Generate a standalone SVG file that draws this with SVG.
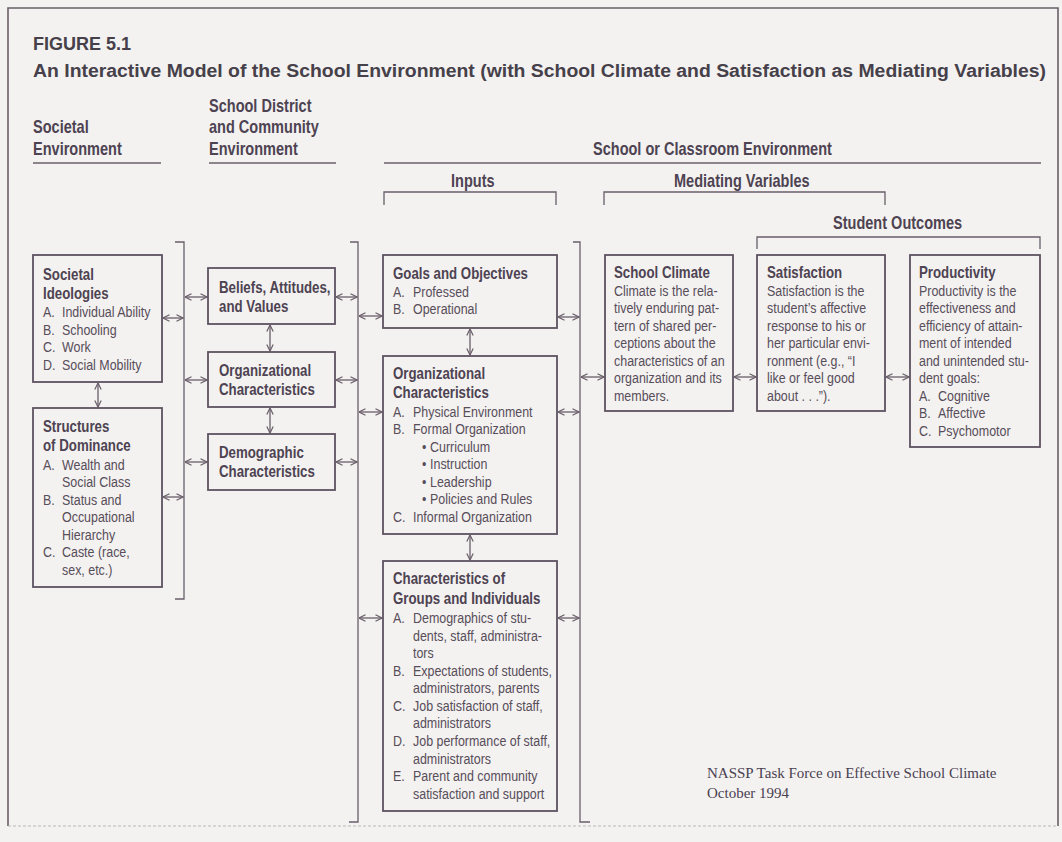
<svg xmlns="http://www.w3.org/2000/svg" width="1062" height="842" viewBox="0 0 1062 842">
  <defs>
    <style>
      .bg { fill: #f3f2f0; }
      .frame { fill: none; stroke: #6a5f68; stroke-width: 1.6; }
      .title { font-family: "Liberation Sans", Arial, sans-serif; font-weight: bold; font-size: 18px; fill: #46404a; }
      .hd { font-family: "Liberation Sans", Arial, sans-serif; font-weight: bold; font-size: 17.5px; fill: #4e4352; }
      .nt { font-family: "Liberation Sans", Arial, sans-serif; font-weight: bold; font-size: 16px; fill: #4e4352; }
      .tx { font-family: "Liberation Sans", Arial, sans-serif; font-size: 15px; fill: #584d5a; }
      .src { font-family: "Liberation Serif", "Times New Roman", serif; font-size: 15px; fill: #4a4050; }
      .box { fill: none; stroke: #5e5260; stroke-width: 1.8; }
      .rule { fill: none; stroke: #6a5e6a; stroke-width: 1.3; }
      .arr { fill: none; stroke: #6a5e6a; stroke-width: 1.3; marker-start: url(#ah); marker-end: url(#ah); }
    </style>
    <marker id="ah" viewBox="0 0 8 8" refX="7.5" refY="4" markerWidth="8" markerHeight="8" markerUnits="userSpaceOnUse" orient="auto-start-reverse">
      <path d="M1,0.8 L7.5,4 L1,7.2" fill="none" stroke="#6a5e6a" stroke-width="1.2"/>
    </marker>
  </defs>

  <rect class="bg" x="0" y="0" width="1062" height="842"/>
  <path class="frame" d="M8,826 V8 H1058 V826"/>
  <line x1="8" y1="826" x2="1058" y2="826" stroke="#bdb6bc" stroke-width="1.2" stroke-dasharray="3 2"/>

  <!-- figure title -->
  <text class="title" x="33" y="50">FIGURE 5.1</text>
  <text class="title" x="33" y="77" textLength="1013" lengthAdjust="spacingAndGlyphs">An Interactive Model of the School Environment (with School Climate and Satisfaction as Mediating Variables)</text>

  <!-- column headings (condensed by a horizontal scale) -->
  <g id="headings">
    <text class="hd" transform="matrix(0.83 0 0 1 33 0)" y="133">Societal</text>
    <text class="hd" transform="matrix(0.83 0 0 1 33 0)" y="155">Environment</text>
    <line class="rule" x1="33" y1="163" x2="161" y2="163"/>

    <text class="hd" transform="matrix(0.83 0 0 1 209 0)" y="112">School District</text>
    <text class="hd" transform="matrix(0.83 0 0 1 209 0)" y="133">and Community</text>
    <text class="hd" transform="matrix(0.83 0 0 1 209 0)" y="155">Environment</text>
    <line class="rule" x1="209" y1="163" x2="336" y2="163"/>

    <text class="hd" transform="matrix(0.83 0 0 1 593 0)" y="155">School or Classroom Environment</text>
    <line class="rule" x1="384" y1="163" x2="1041" y2="163"/>

    <text class="hd" transform="matrix(0.83 0 0 1 451 0)" y="187">Inputs</text>
    <path class="rule" d="M384,205 V192 H556 V205"/>

    <text class="hd" transform="matrix(0.83 0 0 1 674 0)" y="187">Mediating Variables</text>
    <path class="rule" d="M604,205 V192 H885 V205"/>

    <text class="hd" transform="matrix(0.83 0 0 1 833 0)" y="229">Student Outcomes</text>
    <path class="rule" d="M757,249 V237 H1040 V249"/>
  </g>

  <!-- connectors: brackets and two-way arrows -->
  <g id="connectors">
    <path class="rule" d="M175,242 H184 V599 H175"/>
    <path class="rule" d="M350,242 H358 V822 H349"/>
    <path class="rule" d="M573,242 H580 V822 H590"/>

    <line class="arr" x1="163" y1="318" x2="183" y2="318"/>
    <line class="arr" x1="163" y1="497" x2="183" y2="497"/>
    <line class="arr" x1="185" y1="297" x2="207" y2="297"/>
    <line class="arr" x1="185" y1="380" x2="207" y2="380"/>
    <line class="arr" x1="185" y1="462" x2="207" y2="462"/>
    <line class="arr" x1="336" y1="297" x2="357" y2="297"/>
    <line class="arr" x1="336" y1="380" x2="357" y2="380"/>
    <line class="arr" x1="336" y1="462" x2="357" y2="462"/>
    <line class="arr" x1="359" y1="316" x2="382" y2="316"/>
    <line class="arr" x1="359" y1="412" x2="382" y2="412"/>
    <line class="arr" x1="359" y1="618" x2="382" y2="618"/>
    <line class="arr" x1="558" y1="317" x2="579" y2="317"/>
    <line class="arr" x1="558" y1="412" x2="579" y2="412"/>
    <line class="arr" x1="558" y1="618" x2="579" y2="618"/>
    <line class="arr" x1="581" y1="377" x2="604" y2="377"/>
    <line class="arr" x1="734" y1="377" x2="756" y2="377"/>
    <line class="arr" x1="886" y1="377" x2="909" y2="377"/>

    <line class="arr" x1="98" y1="383" x2="98" y2="407"/>
    <line class="arr" x1="270" y1="325" x2="270" y2="351"/>
    <line class="arr" x1="270" y1="408" x2="270" y2="433"/>
    <line class="arr" x1="470" y1="329" x2="470" y2="355"/>
    <line class="arr" x1="470" y1="535" x2="470" y2="560"/>
  </g>

  <!-- societal environment -->
  <g id="societal-ideologies">
    <rect class="box" x="33" y="255" width="129" height="127"/>
    <g transform="matrix(0.83 0 0 1 43 0)">
      <text class="nt" x="0" y="280">Societal</text>
      <text class="nt" x="0" y="299">Ideologies</text>
      <text class="tx" y="317"><tspan x="0">A.</tspan><tspan x="22.9">Individual Ability</tspan></text>
      <text class="tx" y="335"><tspan x="0">B.</tspan><tspan x="22.9">Schooling</tspan></text>
      <text class="tx" y="352"><tspan x="0">C.</tspan><tspan x="22.9">Work</tspan></text>
      <text class="tx" y="370"><tspan x="0">D.</tspan><tspan x="22.9">Social Mobility</tspan></text>
    </g>
  </g>

  <g id="structures-of-dominance">
    <rect class="box" x="33" y="408" width="129" height="179"/>
    <g transform="matrix(0.83 0 0 1 43 0)">
      <text class="nt" x="0" y="432">Structures</text>
      <text class="nt" x="0" y="451">of Dominance</text>
      <text class="tx" y="470"><tspan x="0">A.</tspan><tspan x="22.9">Wealth and</tspan></text>
      <text class="tx" x="22.9" y="487">Social Class</text>
      <text class="tx" y="505"><tspan x="0">B.</tspan><tspan x="22.9">Status and</tspan></text>
      <text class="tx" x="22.9" y="522">Occupational</text>
      <text class="tx" x="22.9" y="540">Hierarchy</text>
      <text class="tx" y="557"><tspan x="0">C.</tspan><tspan x="22.9">Caste (race,</tspan></text>
      <text class="tx" x="22.9" y="575">sex, etc.)</text>
    </g>
  </g>

  <!-- school district and community environment -->
  <g id="beliefs">
    <rect class="box" x="208" y="268" width="127" height="56"/>
    <g transform="matrix(0.83 0 0 1 219 0)">
      <text class="nt" x="0" y="293">Beliefs, Attitudes,</text>
      <text class="nt" x="0" y="312">and Values</text>
    </g>
  </g>
  <g id="district-organizational">
    <rect class="box" x="208" y="352" width="127" height="55"/>
    <g transform="matrix(0.83 0 0 1 219 0)">
      <text class="nt" x="0" y="376">Organizational</text>
      <text class="nt" x="0" y="395">Characteristics</text>
    </g>
  </g>
  <g id="demographic">
    <rect class="box" x="208" y="434" width="127" height="56"/>
    <g transform="matrix(0.83 0 0 1 219 0)">
      <text class="nt" x="0" y="458">Demographic</text>
      <text class="nt" x="0" y="477">Characteristics</text>
    </g>
  </g>

  <!-- inputs -->
  <g id="goals">
    <rect class="box" x="383" y="255" width="174" height="73"/>
    <g transform="matrix(0.83 0 0 1 393 0)">
      <text class="nt" x="0" y="279">Goals and Objectives</text>
      <text class="tx" y="297"><tspan x="0">A.</tspan><tspan x="24.1">Professed</tspan></text>
      <text class="tx" y="314"><tspan x="0">B.</tspan><tspan x="24.1">Operational</tspan></text>
    </g>
  </g>

  <g id="school-organizational">
    <rect class="box" x="383" y="356" width="174" height="178"/>
    <g transform="matrix(0.83 0 0 1 393 0)">
      <text class="nt" x="0" y="379">Organizational</text>
      <text class="nt" x="0" y="398">Characteristics</text>
      <text class="tx" y="417"><tspan x="0">A.</tspan><tspan x="24.1">Physical Environment</tspan></text>
      <text class="tx" y="434"><tspan x="0">B.</tspan><tspan x="24.1">Formal Organization</tspan></text>
      <text class="tx" y="452"><tspan x="34.9">•</tspan><tspan x="44.6">Curriculum</tspan></text>
      <text class="tx" y="469"><tspan x="34.9">•</tspan><tspan x="44.6">Instruction</tspan></text>
      <text class="tx" y="487"><tspan x="34.9">•</tspan><tspan x="44.6">Leadership</tspan></text>
      <text class="tx" y="504"><tspan x="34.9">•</tspan><tspan x="44.6">Policies and Rules</tspan></text>
      <text class="tx" y="522"><tspan x="0">C.</tspan><tspan x="24.1">Informal Organization</tspan></text>
    </g>
  </g>

  <g id="groups-individuals">
    <rect class="box" x="383" y="561" width="174" height="250"/>
    <g transform="matrix(0.83 0 0 1 393 0)">
      <text class="nt" x="0" y="584">Characteristics of</text>
      <text class="nt" x="0" y="604">Groups and Individuals</text>
      <text class="tx" y="623"><tspan x="0">A.</tspan><tspan x="24.1">Demographics of stu-</tspan></text>
      <text class="tx" x="24.1" y="641">dents, staff, administra-</text>
      <text class="tx" x="24.1" y="658">tors</text>
      <text class="tx" y="676"><tspan x="0">B.</tspan><tspan x="24.1">Expectations of students,</tspan></text>
      <text class="tx" x="24.1" y="693">administrators, parents</text>
      <text class="tx" y="711"><tspan x="0">C.</tspan><tspan x="24.1">Job satisfaction of staff,</tspan></text>
      <text class="tx" x="24.1" y="728">administrators</text>
      <text class="tx" y="746"><tspan x="0">D.</tspan><tspan x="24.1">Job performance of staff,</tspan></text>
      <text class="tx" x="24.1" y="764">administrators</text>
      <text class="tx" y="781"><tspan x="0">E.</tspan><tspan x="24.1">Parent and community</tspan></text>
      <text class="tx" x="24.1" y="799">satisfaction and support</text>
    </g>
  </g>

  <!-- mediating variables and outcomes -->
  <g id="school-climate">
    <rect class="box" x="605" y="255" width="128" height="156"/>
    <g transform="matrix(0.83 0 0 1 614 0)">
      <text class="nt" x="0" y="278">School Climate</text>
      <text class="tx" x="0" y="296">Climate is the rela-</text>
      <text class="tx" x="0" y="313">tively enduring pat-</text>
      <text class="tx" x="0" y="331">tern of shared per-</text>
      <text class="tx" x="0" y="348">ceptions about the</text>
      <text class="tx" x="0" y="366">characteristics of an</text>
      <text class="tx" x="0" y="383">organization and its</text>
      <text class="tx" x="0" y="401">members.</text>
    </g>
  </g>

  <g id="satisfaction">
    <rect class="box" x="757" y="255" width="128" height="156"/>
    <g transform="matrix(0.83 0 0 1 767 0)">
      <text class="nt" x="0" y="278">Satisfaction</text>
      <text class="tx" x="0" y="296">Satisfaction is the</text>
      <text class="tx" x="0" y="313">student’s affective</text>
      <text class="tx" x="0" y="331">response to his or</text>
      <text class="tx" x="0" y="348">her particular envi-</text>
      <text class="tx" x="0" y="366">ronment (e.g., “I</text>
      <text class="tx" x="0" y="383">like or feel good</text>
      <text class="tx" x="0" y="401">about . . .”).</text>
    </g>
  </g>

  <g id="productivity">
    <rect class="box" x="910" y="255" width="130" height="192"/>
    <g transform="matrix(0.83 0 0 1 919 0)">
      <text class="nt" x="0" y="278">Productivity</text>
      <text class="tx" x="0" y="296">Productivity is the</text>
      <text class="tx" x="0" y="313">effectiveness and</text>
      <text class="tx" x="0" y="331">efficiency of attain-</text>
      <text class="tx" x="0" y="348">ment of intended</text>
      <text class="tx" x="0" y="366">and unintended stu-</text>
      <text class="tx" x="0" y="383">dent goals:</text>
      <text class="tx" y="401"><tspan x="0">A.</tspan><tspan x="22.9">Cognitive</tspan></text>
      <text class="tx" y="418"><tspan x="0">B.</tspan><tspan x="22.9">Affective</tspan></text>
      <text class="tx" y="436"><tspan x="0">C.</tspan><tspan x="22.9">Psychomotor</tspan></text>
    </g>
  </g>

  <!-- source note -->
  <text class="src" x="707" y="778">NASSP Task Force on Effective School Climate</text>
  <text class="src" x="707" y="798">October 1994</text>
</svg>
